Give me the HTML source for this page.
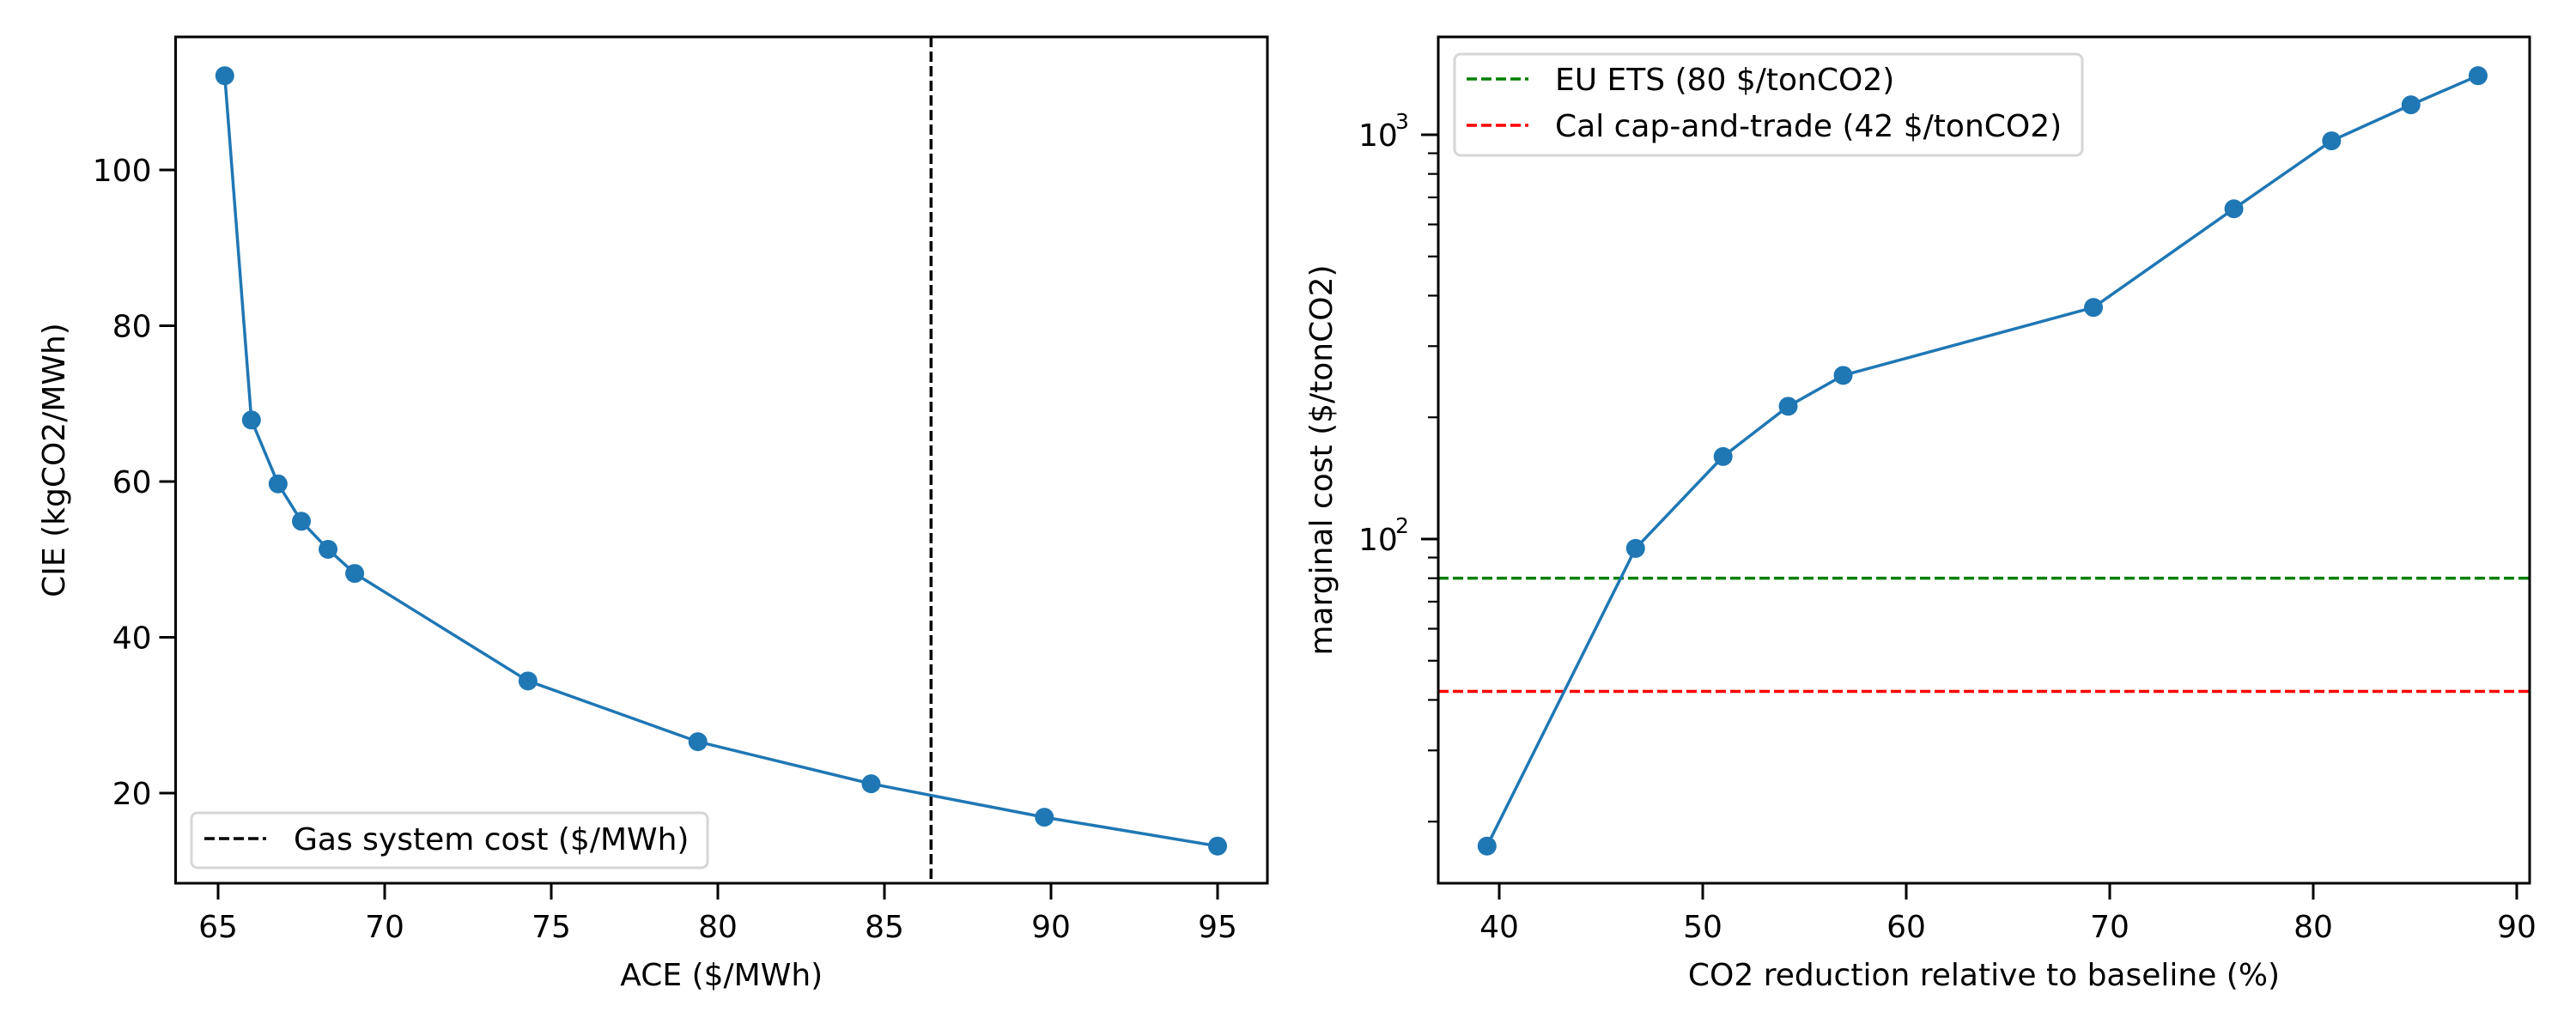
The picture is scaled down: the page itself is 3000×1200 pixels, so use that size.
<!DOCTYPE html>
<html><head><meta charset="utf-8"><style>
html,body{margin:0;padding:0;background:#fff;}
svg{display:block;}
text{font-family:"DejaVu Sans","Liberation Sans",sans-serif;fill:#000;}
</style></head><body>
<svg id="chart" width="3000" height="1200" viewBox="0 0 3000 1200" xmlns="http://www.w3.org/2000/svg">
<rect width="3000" height="1200" fill="#fff"/>
<g id="left"></g>
<g id="right"></g>
</svg>
<script>
// Left chart data
const aceValues = [65.2, 66.0, 66.8, 67.5, 68.3, 69.1, 74.3, 79.4, 84.6, 89.8, 95.0];
const cieValues = [112.1, 67.9, 59.7, 54.9, 51.3, 48.2, 34.4, 26.6, 21.2, 16.9, 13.2];
const gasSystemCost = [86.4];
const leftXTicks = [65, 70, 75, 80, 85, 90, 95];
const leftYTicks = [20, 40, 60, 80, 100];
// Right chart data
const reductionValues = [39.4, 46.7, 51.0, 54.2, 56.9, 69.2, 76.1, 80.9, 84.8, 88.1];
const marginalCostValues = [17.4, 94.8, 160, 213, 254, 374, 656, 966, 1186, 1400];
const priceLevels = [80, 42];
const priceLabels = ["EU ETS (80 $/tonCO2)", "Cal cap-and-trade (42 $/tonCO2)"];
const rightXTicks = [40, 50, 60, 70, 80, 90];
const rightMajorY = [100, 1000];
const rightMajorYExp = ["2", "3"];

const NS = "http://www.w3.org/2000/svg";
const FS = 36;
const LW = 3.5;
function mk(parent, tag, attrs, txt) {
  const e = document.createElementNS(NS, tag);
  for (const k in attrs) e.setAttribute(k, attrs[k]);
  if (txt !== undefined) e.textContent = txt;
  parent.appendChild(e);
  return e;
}
const BLUE = "#1f77b4";
const TOP = 43, BOT = 1029;

// ---------- Left ----------
const L = document.getElementById("left");
const lx0 = 204.5, lx1 = 1476;
const lx = v => 254 + (v - 65) * (1418 - 254) / 30;
const ly = v => 924 - (v - 20) * (924 - 198) / 80;

leftXTicks.forEach(t => {
  const g = mk(L, "g", {});
  
  
  mk(g, "line", {x1: lx(t), x2: lx(t), y1: BOT, y2: BOT + 19, stroke: "#000", "stroke-width": 3});
  mk(g, "text", {x: lx(t), y: 1092, "font-size": FS, "text-anchor": "middle"}, String(t));
});
leftYTicks.forEach(t => {
  const g = mk(L, "g", {});
  
  
  mk(g, "line", {x1: lx0 - 19, x2: lx0, y1: ly(t), y2: ly(t), stroke: "#000", "stroke-width": 3});
  mk(g, "text", {x: lx0 - 28, y: ly(t) + 13, "font-size": FS, "text-anchor": "end"}, String(t));
});
gasSystemCost.forEach(v => {
  const ln = mk(L, "line", {x1: lx(v), x2: lx(v), y1: TOP, y2: BOT, stroke: "#000", "stroke-width": LW, "stroke-dasharray": "12,5"});
  
  
});
const lpts = aceValues.map((v, i) => lx(v) + "," + ly(cieValues[i])).join(" ");
const lline = mk(L, "polyline", {points: lpts, fill: "none", stroke: BLUE, "stroke-width": LW});


aceValues.forEach((v, i) => {
  const c = mk(L, "circle", {cx: lx(v), cy: ly(cieValues[i]), r: 11, fill: BLUE});
  
  
});
const lframe = mk(L, "rect", {x: lx0, y: TOP, width: lx1 - lx0, height: BOT - TOP, fill: "none", stroke: "#000", "stroke-width": 3});


const lleg = mk(L, "g", {});


mk(lleg, "rect", {x: 223, y: 947, width: 601, height: 64, rx: 7, fill: "#fff", "fill-opacity": 0.8, stroke: "#d6d6d6", "stroke-width": 3});
mk(lleg, "line", {x1: 238, x2: 310, y1: 977, y2: 977, stroke: "#000", "stroke-width": LW, "stroke-dasharray": "12,5"});
mk(lleg, "text", {x: 342, y: 990, "font-size": FS}, "Gas system cost ($/MWh)");
const lxl = mk(L, "text", {x: (lx0 + lx1) / 2, y: 1148, "font-size": FS, "text-anchor": "middle"}, "ACE ($/MWh)");


const lyl = mk(L, "text", {x: 0, y: 0, "font-size": FS, "text-anchor": "middle", transform: "translate(75," + (TOP + BOT) / 2 + ") rotate(-90)"}, "CIE (kgCO2/MWh)");



// ---------- Right ----------
const R = document.getElementById("right");
const rx0 = 1675, rx1 = 2946;
const rx = v => 1746 + (v - 40) * (2931 - 1746) / 50;
const ry = v => 628 - (Math.log10(v) - 2) * 471;

rightXTicks.forEach(t => {
  const g = mk(R, "g", {});
  
  
  mk(g, "line", {x1: rx(t), x2: rx(t), y1: BOT, y2: BOT + 19, stroke: "#000", "stroke-width": 3});
  mk(g, "text", {x: rx(t), y: 1092, "font-size": FS, "text-anchor": "middle"}, String(t));
});
for (let d = 10; d <= 1000; d *= 10) {
  for (let m = 2; m <= 9; m++) {
    const v = d * m;
    const y = ry(v);
    if (y < TOP || y > BOT) continue;
    const t = mk(R, "line", {x1: rx0 - 12, x2: rx0, y1: y, y2: y, stroke: "#000", "stroke-width": 2.2});
    
    
  }
}
rightMajorY.forEach((t, i) => {
  const g = mk(R, "g", {});
  
  
  mk(g, "line", {x1: rx0 - 20, x2: rx0, y1: ry(t), y2: ry(t), stroke: "#000", "stroke-width": 3});
  mk(g, "text", {x: 1582, y: ry(t) + 13, "font-size": FS, "text-anchor": "start"}, "10");
  mk(g, "text", {x: 1625, y: ry(t) - 7, "font-size": 25, "text-anchor": "start"}, rightMajorYExp[i]);
});
const priceColors = ["#008000", "#ff0000"];
priceLevels.forEach((v, i) => {
  const ln = mk(R, "line", {x1: rx0, x2: rx1, y1: ry(v), y2: ry(v), stroke: priceColors[i], "stroke-width": LW, "stroke-dasharray": "12,5"});
  
  
});
const rpts = reductionValues.map((v, i) => rx(v) + "," + ry(marginalCostValues[i])).join(" ");
const rline = mk(R, "polyline", {points: rpts, fill: "none", stroke: BLUE, "stroke-width": LW});


reductionValues.forEach((v, i) => {
  const c = mk(R, "circle", {cx: rx(v), cy: ry(marginalCostValues[i]), r: 11, fill: BLUE});
  
  
});
const rframe = mk(R, "rect", {x: rx0, y: TOP, width: rx1 - rx0, height: BOT - TOP, fill: "none", stroke: "#000", "stroke-width": 3});


const rleg = mk(R, "g", {});


mk(rleg, "rect", {x: 1694, y: 63, width: 731, height: 118, rx: 7, fill: "#fff", "fill-opacity": 0.8, stroke: "#d6d6d6", "stroke-width": 3});
priceLabels.forEach((lab, i) => {
  const yy = 92 + i * 54;
  const e = mk(rleg, "g", {});
  
  
  mk(e, "line", {x1: 1708, x2: 1780, y1: yy, y2: yy, stroke: priceColors[i], "stroke-width": LW, "stroke-dasharray": "12,5"});
  mk(e, "text", {x: 1811, y: yy + 13, "font-size": FS}, lab);
});
const rxl = mk(R, "text", {x: (rx0 + rx1) / 2, y: 1148, "font-size": FS, "text-anchor": "middle"}, "CO2 reduction relative to baseline (%)");


const ryl = mk(R, "text", {x: 0, y: 0, "font-size": FS, "text-anchor": "middle", transform: "translate(1551," + (TOP + BOT) / 2 + ") rotate(-90)"}, "marginal cost ($/tonCO2)");


</script>
</body></html>
